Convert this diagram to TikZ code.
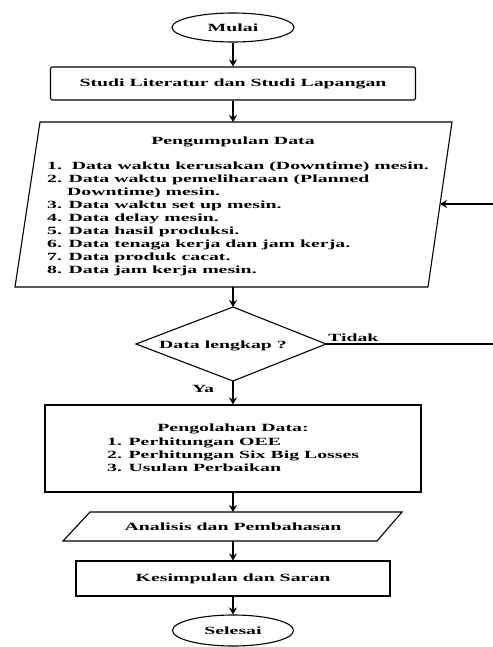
\documentclass[tikz,border=0pt]{standalone}
\usepackage{fontspec}
\setmainfont{Liberation Serif}[FakeStretch=1.8]
\usetikzlibrary{arrows.meta,shapes.geometric}

\begin{document}
\begin{tikzpicture}[x=1pt,y=-1pt,
  every node/.style={font=\fontsize{11}{13}\selectfont\bfseries},
  box/.style={draw,line width=1.1pt,inner sep=0pt},
  shapeline/.style={line width=1.1pt,line join=miter},
  txt/.style={inner sep=0pt,anchor=base west},
  ctxt/.style={inner sep=0pt,anchor=base},
  flow/.style={line width=1.3pt,-{Stealth[length=7pt,width=8pt]}}]
\useasboundingbox (0,0) rectangle (492,647);

% start / end terminals
\node[box,ellipse,minimum width=122pt,minimum height=29pt] (mulai) at (233,27.5) {Mulai};
\node[box,ellipse,minimum width=121pt,minimum height=31pt] (selesai) at (233,630.5) {Selesai};

% first process
\node[box,rounded corners=2pt,minimum width=365pt,minimum height=33pt] (studi) at (233,83.5)
  {Studi Literatur dan Studi Lapangan};

% data collection (input/output)
\coordinate (p1) at (40,122);
\coordinate (p2) at (452,122);
\coordinate (p3) at (428,287);
\coordinate (p4) at (15,287);
\draw[shapeline] (p1) -- (p2) -- (p3) -- (p4) -- cycle;
\coordinate (pdtop) at (233,122);
\coordinate (pdbot) at (233,287);
\coordinate (pdright) at (440,204);

\node[ctxt] (pdtitle) at (233,144.5) {Pengumpulan Data};
\node[txt] (l1) at (47,169.5) {1.\ \ Data waktu kerusakan (Downtime) mesin.};
\node[txt] (l2) at (47,182.5) {2. Data waktu pemeliharaan (Planned};
\node[txt] (l2b) at (67,195.5) {Downtime) mesin.};
\node[txt] (l3) at (47,208.5) {3. Data waktu set up mesin.};
\node[txt] (l4) at (47,221.5) {4. Data delay mesin.};
\node[txt] (l5) at (47,234.5) {5. Data hasil produksi.};
\node[txt] (l6) at (47,247.5) {6. Data tenaga kerja dan jam kerja.};
\node[txt] (l7) at (47,260.5) {7. Data produk cacat.};
\node[txt] (l8) at (47,273.5) {8. Data jam kerja mesin.};

% decision
\coordinate (dtop) at (233,307);
\coordinate (dright) at (326,344);
\coordinate (dbot) at (233,381);
\coordinate (dleft) at (136,344);
\draw[shapeline] (dtop) -- (dright) -- (dbot) -- (dleft) -- cycle;
\node[ctxt] (dq) at (223,348.5) {Data lengkap ?};
\node[txt] (tidak) at (328,341.5) {Tidak};
\node[ctxt] (ya) at (203,392.5) {Ya};

% processing
\node[box,minimum width=376pt,minimum height=87pt] (olah) at (233,448.5) {};
\node[ctxt] (olahtitle) at (233,431.5) {Pengolahan Data:};
\node[txt] (o1) at (107,445.5) {1. Perhitungan OEE};
\node[txt] (o2) at (107,458.5) {2. Perhitungan Six Big Losses};
\node[txt] (o3) at (107,471.5) {3. Usulan Perbaikan};

% analysis (input/output)
\coordinate (a1) at (90,512);
\coordinate (a2) at (402,512);
\coordinate (a3) at (377,541);
\coordinate (a4) at (63,541);
\draw[shapeline] (a1) -- (a2) -- (a3) -- (a4) -- cycle;
\coordinate (antop) at (233,512);
\coordinate (anbot) at (233,541);
\node[ctxt] (antext) at (233,530.5) {Analisis dan Pembahasan};

% conclusion
\node[box,minimum width=314pt,minimum height=35pt] (kes) at (233,578.5) {Kesimpulan dan Saran};

% main flow
\draw[flow] (mulai.south) -- (studi.north);
\draw[flow] (studi.south) -- (pdtop);
\draw[flow] (pdbot) -- (dtop);
\draw[flow] (dbot) -- (olah.north);
\draw[flow] (olah.south) -- (antop);
\draw[flow] (anbot) -- (kes.north);
\draw[flow] (kes.south) -- (selesai.north);

% "Tidak" loop back to data collection
\coordinate (loopbot) at (500,344);
\coordinate (looptop) at (500,204);
\draw[flow] (dright) -- (loopbot) -- (looptop) -- (pdright);
\end{tikzpicture}
\end{document}
